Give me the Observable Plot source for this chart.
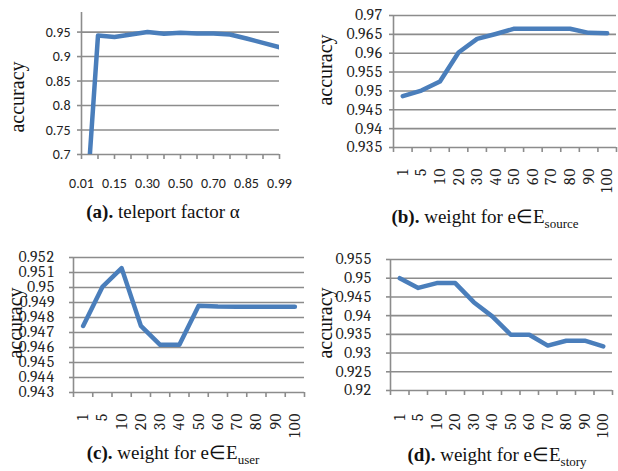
<!DOCTYPE html>
<html><head><meta charset="utf-8">
<script src="https://cdn.jsdelivr.net/npm/d3@7"></script>
<script src="https://cdn.jsdelivr.net/npm/@observablehq/plot@0.6"></script>
<style>
body{margin:0;background:#fff;}
#root{position:relative;width:618px;height:471px;overflow:hidden;background:#fff;}
.panel{position:absolute;}
.ylab{position:absolute;font-family:"Liberation Serif";font-size:20px;color:#111;transform:translate(-50%,-50%) rotate(-90deg);white-space:nowrap;}
.cap{position:absolute;font-family:"Liberation Serif";font-size:19px;color:#111;transform:translate(-50%,-50%);white-space:nowrap;}
.cap sub{font-size:13px;vertical-align:baseline;position:relative;top:5px;}
</style></head><body><div id="root"></div>
<script>
// ---- data ----
const alphaLabels = ["0.01","0.05","0.15","0.20","0.30","0.40","0.50","0.60","0.70","0.80","0.85","0.90","0.99"];
const alphaAccuracy = [0.45, 0.943, 0.940, 0.945, 0.950, 0.9465, 0.9485, 0.947, 0.947, 0.945, 0.937, 0.928, 0.919];
const weightLabels = ["1","5","10","20","30","40","50","60","70","80","90","100"];
const sourceAccuracy = [0.9486, 0.9501, 0.9525, 0.9602, 0.9638, 0.9651, 0.9665, 0.9665, 0.9665, 0.9665, 0.9654, 0.9653];
const userAccuracy = [0.94744, 0.95004, 0.95129, 0.94744, 0.94618, 0.94618, 0.94878, 0.94873, 0.94872, 0.94872, 0.94872, 0.94872];
const storyAccuracy = [0.9500, 0.9474, 0.9487, 0.9487, 0.9436, 0.9398, 0.9349, 0.9349, 0.9320, 0.9333, 0.9333, 0.9318];
const ticksA = [0.7, 0.75, 0.8, 0.85, 0.9, 0.95];
const ticksB = [0.935, 0.94, 0.945, 0.95, 0.955, 0.96, 0.965, 0.97];
const ticksC = [0.943, 0.944, 0.945, 0.946, 0.947, 0.948, 0.949, 0.95, 0.951, 0.952];
const ticksD = [0.92, 0.925, 0.93, 0.935, 0.94, 0.945, 0.95, 0.955];

const root = document.getElementById("root");
const gridColor = "#8c8c8c";
const cambria = "Caladea";
const calibri = "Carlito";

function drawPanel(o) {
  const n = o.labels.length;
  const data = o.values.map((v, i) => ({i, v}));
  const xDomain = o.band ? [-0.5, n - 0.5] : [0, n - 1];
  const tickPos = o.band ? d3.range(n + 1).map(i => i - 0.5) : d3.range(n);
  const labelPos = d3.range(n).filter(i => i % o.every === 0);
  const svg = Plot.plot({
    width: o.width, height: o.height,
    marginLeft: o.mL, marginRight: o.mR, marginTop: o.mT, marginBottom: o.mB,
    style: {background: "transparent", overflow: "visible"},
    x: {type: "linear", domain: xDomain},
    y: {domain: o.yDomain},
    marks: [
      Plot.gridY(o.yTicks, {stroke: gridColor, strokeOpacity: 1, strokeWidth: 1.6}),
      Plot.ruleX([xDomain[0]], {stroke: gridColor, strokeWidth: 1.6}),
      Plot.axisY(o.yTicks, {tickSize: 4, tickPadding: o.yPad, stroke: gridColor, strokeWidth: 1.6,
        fill: "#222", fontSize: o.fontSize, fontFamily: o.font, tickFormat: d => String(d), label: null}),
      Plot.axisX(tickPos, {tickSize: 5, stroke: gridColor, strokeWidth: 1.6, fill: "none", label: null}),
      Plot.axisX(labelPos, {tickSize: 0, tickPadding: o.xPad, tickRotate: o.rotate,
        tickFormat: i => o.labels[i], fontSize: o.fontSize, fontFamily: o.font, fill: "#222", label: null}),
      Plot.line(data, {x: "i", y: "v", stroke: "#4a7ebb", strokeWidth: 4.5, strokeLinejoin: "round", clip: o.clip})
    ]
  });
  const div = document.createElement("div");
  div.className = "panel";
  div.style.left = o.left + "px";
  div.style.top = o.top + "px";
  div.appendChild(svg);
  root.appendChild(div);

  const yl = document.createElement("div");
  yl.className = "ylab";
  yl.textContent = "accuracy";
  yl.style.left = o.ylx + "px";
  yl.style.top = o.yly + "px";
  root.appendChild(yl);

  const cap = document.createElement("div");
  cap.className = "cap";
  cap.innerHTML = o.caption;
  cap.style.left = o.cx + "px";
  cap.style.top = o.cy + "px";
  root.appendChild(cap);
}

drawPanel({left: 0, top: 0, width: 310, height: 200, mL: 81, mR: 31, mT: 12, mB: 46,
  labels: alphaLabels, values: alphaAccuracy, yDomain: [0.7, 0.99], yTicks: ticksA,
  band: false, every: 2, rotate: 0, xPad: 24, yPad: 7, font: calibri, fontSize: 14, clip: true,
  ylx: 17, yly: 97, cx: 163, cy: 212, caption: "<b>(a).</b> teleport factor α"});

drawPanel({left: 310, top: 0, width: 308, height: 200, mL: 83, mR: 2, mT: 15, mB: 53,
  labels: weightLabels, values: sourceAccuracy, yDomain: [0.935, 0.97], yTicks: ticksB,
  band: true, every: 1, rotate: -90, xPad: 21, yPad: 7, font: cambria, fontSize: 15.5, clip: false,
  ylx: 325, yly: 70, cx: 485, cy: 216, caption: "<b>(b).</b> weight for e∈E<sub>source</sub>"});

drawPanel({left: 0, top: 235, width: 310, height: 200, mL: 73, mR: 6, mT: 22, mB: 43,
  labels: weightLabels, values: userAccuracy, yDomain: [0.943, 0.952], yTicks: ticksC,
  band: true, every: 1, rotate: -90, xPad: 21, yPad: 15, font: cambria, fontSize: 15.5, clip: false,
  ylx: 15, yly: 323, cx: 173, cy: 452, caption: "<b>(c).</b> weight for e∈E<sub>user</sub>"});

drawPanel({left: 310, top: 235, width: 308, height: 200, mL: 80, mR: 6, mT: 24, mB: 45,
  labels: weightLabels, values: storyAccuracy, yDomain: [0.92, 0.955], yTicks: ticksD,
  band: true, every: 1, rotate: -90, xPad: 23, yPad: 15, font: cambria, fontSize: 15.5, clip: false,
  ylx: 325, yly: 323, cx: 497, cy: 454, caption: "<b>(d).</b> weight for e∈E<sub>story</sub>"});
</script>
</body></html>
